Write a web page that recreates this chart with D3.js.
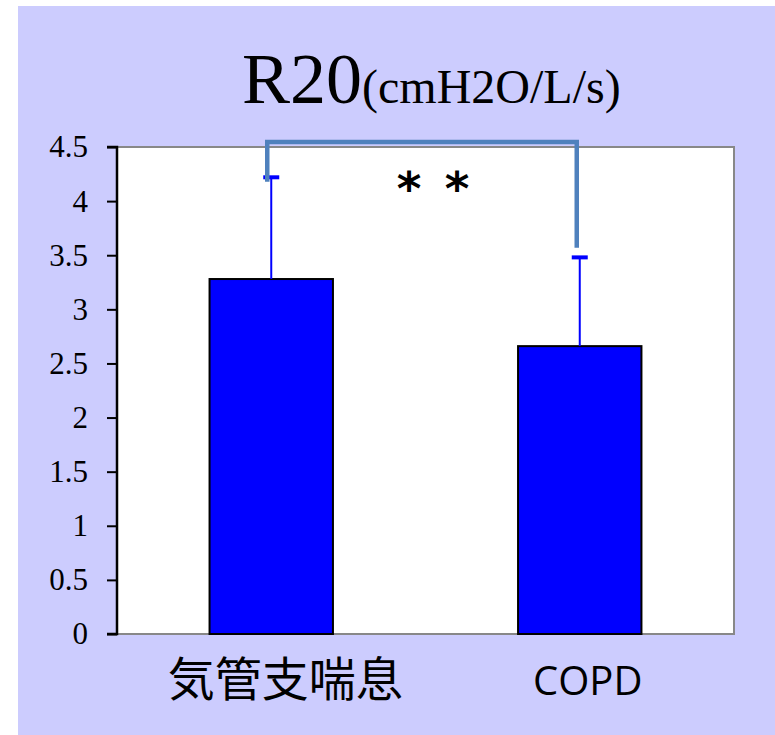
<!DOCTYPE html>
<html>
<head>
<meta charset="utf-8">
<script src="https://cdn.jsdelivr.net/npm/d3@7"></script>
<style>
  body { margin: 0; background: #fff; }
  svg { display: block; }
</style>
</head>
<body>
<svg id="chart" width="775" height="735"></svg>
<script>
var categories = ["気管支喘息", "COPD"];
var means = [3.28, 2.66];
var errors = [0.94, 0.82];
var yTicks = [0, 0.5, 1, 1.5, 2, 2.5, 3, 3.5, 4, 4.5];
var yTickLabels = ["0", "0.5", "1", "1.5", "2", "2.5", "3", "3.5", "4", "4.5"];
var sigMarks = ["*", "*"];

var svg = d3.select("#chart");
var margin = {left: 117, right: 41, top: 147, bottom: 101};
var W = 775, H = 735;

// lavender panel
svg.append("rect")
  .attr("x", 18).attr("y", 6)
  .attr("width", W - 18).attr("height", H - 6)
  .attr("fill", "#ccccfe");

var x = d3.scaleBand()
  .domain(categories)
  .range([margin.left, W - margin.right])
  .paddingInner(0.6)
  .paddingOuter(0.3);

var y = d3.scaleLinear()
  .domain([0, 4.5])
  .range([H - margin.bottom, margin.top]);

// plot area
svg.append("rect")
  .attr("x", margin.left).attr("y", margin.top)
  .attr("width", W - margin.right - margin.left)
  .attr("height", H - margin.bottom - margin.top)
  .attr("fill", "#fff")
  .attr("stroke", "#888").attr("stroke-width", 2);

// bars
svg.selectAll("rect.bar")
  .data(means)
  .enter().append("rect")
  .attr("class", "bar")
  .attr("x", function(d, i){ return x(categories[i]); })
  .attr("y", function(d){ return y(d); })
  .attr("width", x.bandwidth())
  .attr("height", function(d){ return y(0) - y(d); })
  .attr("fill", "#0000ff")
  .attr("stroke", "#000").attr("stroke-width", 2);

// error bars
var eb = svg.selectAll("g.err")
  .data(means)
  .enter().append("g").attr("class", "err");
eb.append("line")
  .attr("x1", function(d, i){ return x(categories[i]) + x.bandwidth() / 2; })
  .attr("x2", function(d, i){ return x(categories[i]) + x.bandwidth() / 2; })
  .attr("y1", function(d){ return y(d); })
  .attr("y2", function(d, i){ return y(d + errors[i]); })
  .attr("stroke", "#0000ff").attr("stroke-width", 2);
eb.append("line")
  .attr("x1", function(d, i){ return x(categories[i]) + x.bandwidth() / 2 - 8; })
  .attr("x2", function(d, i){ return x(categories[i]) + x.bandwidth() / 2 + 8; })
  .attr("y1", function(d, i){ return y(d + errors[i]); })
  .attr("y2", function(d, i){ return y(d + errors[i]); })
  .attr("stroke", "#0000ff").attr("stroke-width", 4);

// y axis
var yAxis = d3.axisLeft(y)
  .tickValues(yTicks)
  .tickFormat(function(d, i){ return yTickLabels[i]; })
  .tickSize(10)
  .tickPadding(19);
var ga = svg.append("g")
  .attr("transform", "translate(" + margin.left + ",0)")
  .call(yAxis);
ga.select(".domain").attr("stroke", "#000").attr("stroke-width", 2.5)
  .attr("d", "M-10," + y(4.5) + "H0V" + y(0) + "H-10");
ga.selectAll(".tick line").attr("stroke", "#000").attr("stroke-width", 2);
ga.selectAll(".tick text")
  .style("font-family", "'Liberation Serif', 'Times New Roman', serif")
  .style("font-size", "31px").attr("fill", "#000");

// significance bracket
var cx0 = x(categories[0]) + x.bandwidth() / 2 - 4;
var cx1 = x(categories[1]) + x.bandwidth() / 2 - 3;
var topY = y(4.5) - 5;
svg.append("path")
  .attr("d", "M" + cx0 + "," + y(4.18) + "V" + topY + "H" + cx1 + "V" + y(3.57))
  .attr("fill", "none")
  .attr("stroke", "#4f81bd").attr("stroke-width", 4.5);
svg.selectAll("text.sig")
  .data(sigMarks)
  .enter().append("text")
  .attr("class", "sig")
  .attr("x", function(d, i){ return 409 + i * 48; })
  .attr("y", 205)
  .attr("text-anchor", "middle")
  .style("font-family", "'DejaVu Sans', sans-serif")
  .style("font-size", "47px").style("font-weight", "bold")
  .attr("fill", "#000")
  .text(function(d){ return d; });

// title
var title = svg.append("text")
  .attr("x", 242).attr("y", 103)
  .style("font-family", "'Liberation Serif', 'Times New Roman', serif")
  .attr("fill", "#000");
title.append("tspan").style("font-size", "72px").text("R20");
title.append("tspan").style("font-size", "48px").text("(cmH2O/L/s)");

// x labels
svg.selectAll("text.xl")
  .data(categories)
  .enter().append("text")
  .attr("class", "xl")
  .attr("x", function(d, i){ return x(d) + x.bandwidth() / 2 + (i === 0 ? 14 : 8); })
  .attr("y", function(d, i){ return i === 0 ? 696 : 695; })
  .attr("text-anchor", "middle")
  .style("font-family", function(d, i){ return i === 0 ? "'Noto Sans CJK JP', sans-serif" : "'Open Sans', sans-serif"; })
  .style("font-size", function(d, i){ return i === 0 ? "47px" : "40px"; })
  .attr("fill", "#000")
  .text(function(d){ return d; });
</script>
</body>
</html>
